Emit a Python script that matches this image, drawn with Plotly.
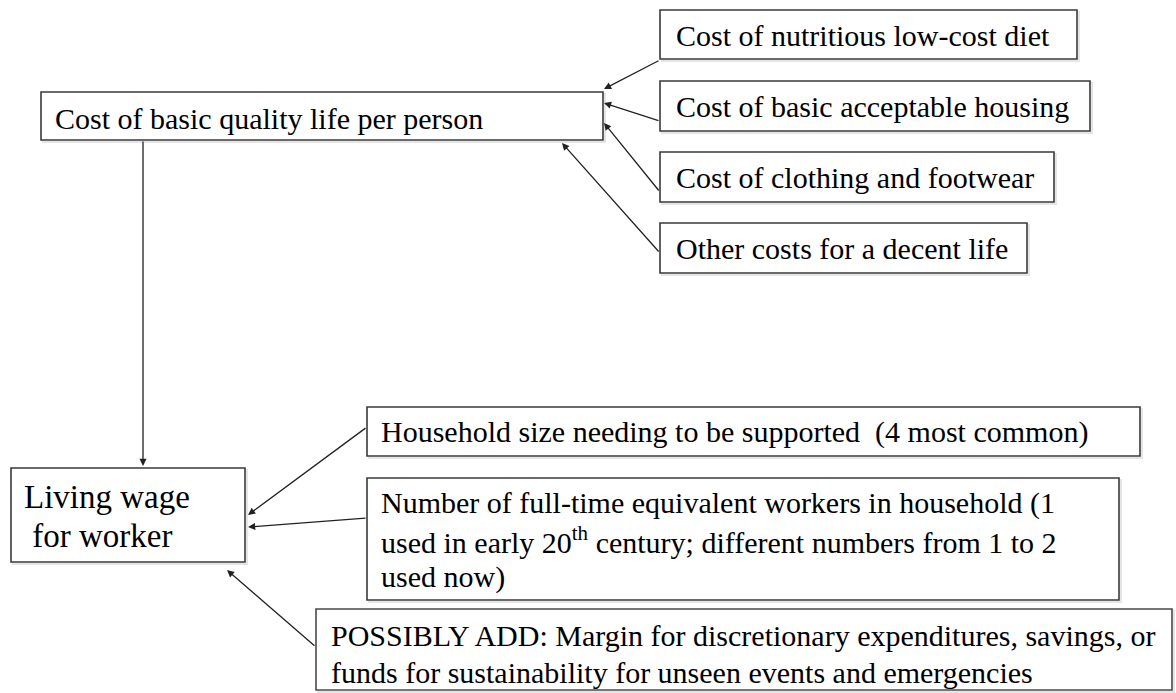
import plotly.graph_objects as go

# ---- content ----
top_box_label = ["Cost of basic quality life per person"]
cost_labels = [
    "Cost of nutritious low-cost diet",
    "Cost of basic acceptable housing",
    "Cost of clothing and footwear",
    "Other costs for a decent life",
]
wage_label = ["Living wage", " for worker"]
household_label = ["Household size needing to be supported  (4 most common)"]
workers_label = [
    "Number of full-time equivalent workers in household (1",
    "used in early 20<sup>th</sup> century; different numbers from 1 to 2",
    "used now)",
]
possibly_label = [
    "POSSIBLY ADD: Margin for discretionary expenditures, savings, or",
    "funds for sustainability for unseen events and emergencies",
]

# ---- layout geometry (pixel canvas) ----
W, H = 1176, 693
boxes = [
    # (lines, x0, y0, x1, y1, text_x, first_line_y, line_gap, font_size, edge)
    (top_box_label, 41, 92, 603, 140, 53, 118, 0, 30, "#3a3a3a"),
    ([cost_labels[0]], 660, 10, 1077, 59, 674, 35, 0, 30, "#3a3a3a"),
    ([cost_labels[1]], 660, 81, 1090, 131, 674, 106, 0, 30, "#3a3a3a"),
    ([cost_labels[2]], 660, 152, 1054, 202, 674, 177, 0, 30, "#3a3a3a"),
    ([cost_labels[3]], 660, 223, 1027, 273, 674, 248, 0, 30, "#3a3a3a"),
    (wage_label, 11, 468, 245, 562, 22, 497, 39, 33, "#3a3a3a"),
    (household_label, 367, 407, 1140, 456, 379, 432, 0, 30, "#3a3a3a"),
    (workers_label, 367, 478, 1119, 600, 379, 503, 37, 30, "#3a3a3a"),
    (possibly_label, 316, 609, 1172, 690, 329, 635, 37, 30, "#4a4a4a"),
]

arrows = [
    # (tail_x, tail_y, tip_x, tip_y)
    (660, 60, 604, 89),
    (660, 121, 604, 103),
    (660, 192, 604, 123),
    (660, 253, 562, 143),
    (143, 140, 143, 466),
    (367, 427, 248, 515),
    (367, 518, 248, 527),
    (316, 647, 227, 570),
]

FONT = "Liberation Serif"

fig = go.Figure()
fig.add_trace(go.Scatter(x=[0, W], y=[0, H], mode="markers",
                         marker=dict(opacity=0), hoverinfo="skip", showlegend=False))

shapes = []
annotations = []
for lines, x0, y0, x1, y1, tx, ty, gap, fs, edge in boxes:
    shapes.append(dict(type="rect", xref="x", yref="y", x0=x0 + 2, y0=y0 + 2, x1=x1 + 2, y1=y1 + 2,
                       line=dict(color="rgba(0,0,0,0.10)", width=2), fillcolor="rgba(0,0,0,0)", layer="below"))
    shapes.append(dict(type="rect", xref="x", yref="y", x0=x0, y0=y0, x1=x1, y1=y1,
                       line=dict(color=edge, width=1.6), fillcolor="white", layer="below"))
    for i, line in enumerate(lines):
        annotations.append(dict(x=tx, y=ty + i * gap, xref="x", yref="y", text=line,
                                showarrow=False, xanchor="left", yanchor="middle",
                                font=dict(family=FONT, size=fs, color="#000000")))

for tx_, ty_, hx, hy in arrows:
    annotations.append(dict(x=hx, y=hy, ax=tx_, ay=ty_, xref="x", yref="y", axref="x", ayref="y",
                            text="", showarrow=True, arrowhead=2, arrowsize=1.1, arrowwidth=1.3,
                            arrowcolor="#222222", standoff=0, startstandoff=0,
                            font=dict(family=FONT, size=12)))

fig.update_layout(
    width=W, height=H,
    margin=dict(l=0, r=0, t=0, b=0),
    paper_bgcolor="white", plot_bgcolor="white",
    xaxis=dict(range=[0, W], visible=False, fixedrange=True),
    yaxis=dict(range=[H, 0], visible=False, fixedrange=True),
    shapes=shapes, annotations=annotations, showlegend=False,
)

fig.write_html("out.html", config={"displayModeBar": False},
               post_script="document.body.style.margin='0';document.body.style.overflow='hidden';")
